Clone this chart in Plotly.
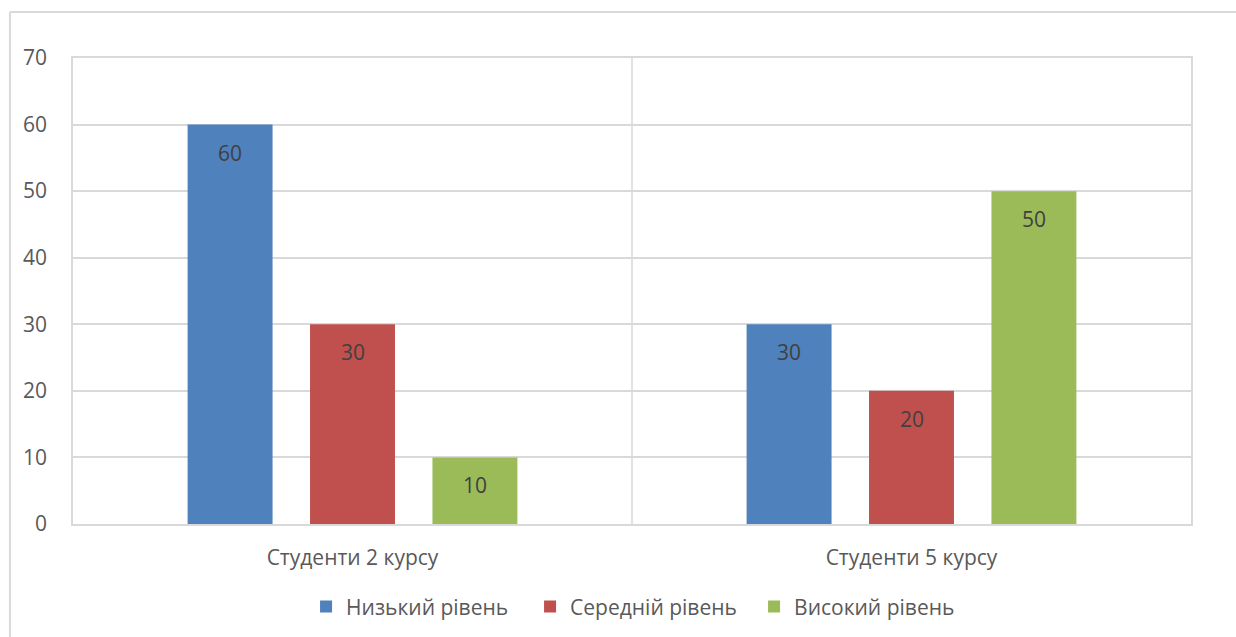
import plotly.graph_objects as go

# Survey results: share of students (%) at each level
categories = ["Студенти 2 курсу", "Студенти 5 курсу"]
series_names = ["Низький рівень", "Середній рівень", "Високий рівень"]
low_level = [60, 30]
mid_level = [30, 20]
high_level = [10, 50]
y_ticks = [0, 10, 20, 30, 40, 50, 60, 70]

series_values = [low_level, mid_level, high_level]
colors = ["#4f81bd", "#c0504d", "#9bbb59"]

FONT = "Open Sans"
FSIZE = 21
TEXT_COLOR = "#595959"
GRID = "#d9d9d9"

BARGAP = 0.343
BARGROUPGAP = 0.306

fig = go.Figure()
for name, vals, col in zip(series_names, series_values, colors):
    fig.add_trace(go.Bar(
        x=categories, y=vals, name=name,
        marker=dict(color=col, line=dict(width=0)),
    ))

# Value labels placed just inside the top of each bar
n = len(series_names)
slot = (1 - BARGAP) / n
annotations = []
for si, vals in enumerate(series_values):
    for ci, v in enumerate(vals):
        annotations.append(dict(
            x=ci + (si - (n - 1) / 2) * slot, y=v, xref="x", yref="y",
            text=str(v), showarrow=False, yshift=-28,
            font=dict(family=FONT, size=FSIZE, color="#404040"),
        ))

# Outer chart frame (left and top edges) and category separator
shapes = [
    dict(type="line", xref="paper", yref="paper", x0=0.5, x1=0.5, y0=0, y1=1,
         line=dict(color=GRID, width=1.5), layer="below"),
    dict(type="line", xref="paper", yref="paper", x0=-0.0564, x1=-0.0564,
         y0=-0.3, y1=1.0987, line=dict(color=GRID, width=2)),
    dict(type="line", xref="paper", yref="paper", x0=-0.0564, x1=1.1,
         y0=1.0987, y1=1.0987, line=dict(color=GRID, width=2)),
]

fig.update_layout(
    width=1236, height=637,
    margin=dict(l=73, r=45, t=58, b=113, autoexpand=False),
    paper_bgcolor="white", plot_bgcolor="white",
    barmode="group", bargap=BARGAP, bargroupgap=BARGROUPGAP,
    font=dict(family=FONT, size=FSIZE, color=TEXT_COLOR),
    annotations=annotations, shapes=shapes,
    legend=dict(orientation="h", x=0.509, xanchor="center", y=-0.178, yanchor="middle",
                font=dict(family=FONT, size=FSIZE, color=TEXT_COLOR),
                itemwidth=30, entrywidth=179, traceorder="normal"),
    xaxis=dict(range=[-0.5, 1.5], showgrid=False, showline=True, mirror=True,
               linecolor=GRID, linewidth=1.5, ticks="", tickfont=dict(size=FSIZE, color=TEXT_COLOR),
               ticklabelstandoff=14),
    yaxis=dict(range=[0, 70], tickvals=y_ticks, showgrid=True, gridcolor=GRID, gridwidth=1.5,
               showline=True, mirror=True, linecolor=GRID, linewidth=1.5,
               ticks="", zeroline=False, tickfont=dict(size=FSIZE, color=TEXT_COLOR),
               ticklabelstandoff=20),
)

fig.write_html("out.html")
